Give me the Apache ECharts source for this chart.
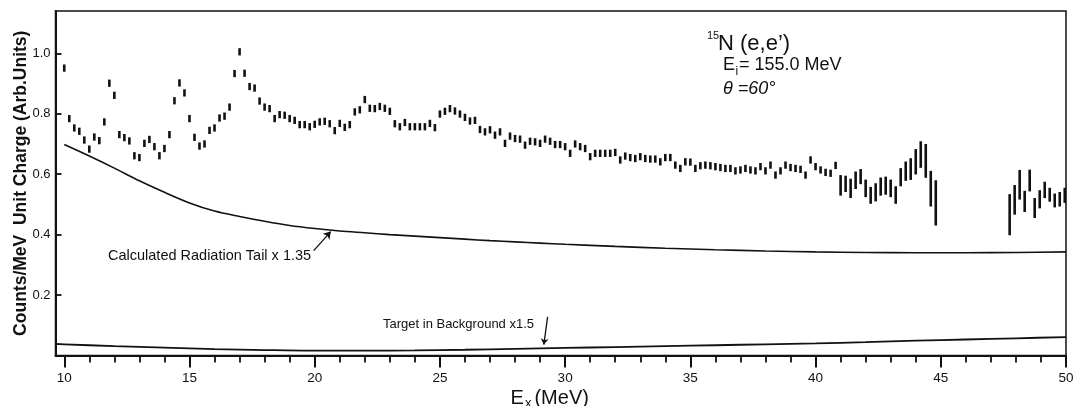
<!DOCTYPE html>
<html>
<head>
<meta charset="utf-8">
<title>15N(e,e') spectrum</title>
<script src="https://cdn.jsdelivr.net/npm/echarts@6/dist/echarts.min.js"></script>
<style>
  html, body { margin: 0; padding: 0; background: #fff; }
  #main { width: 1076px; height: 406px; }
</style>
</head>
<body>
<div id="main"></div>
<script>
// channel energies (MeV) and counts per MeV per unit charge
var energiesLow = [
  10.0, 10.2, 10.4, 10.6, 10.8, 11.0, 11.2, 11.4, 11.6, 11.8,
  12.0, 12.2, 12.4, 12.6, 12.8, 13.0, 13.2, 13.4, 13.6, 13.8,
  14.0, 14.2, 14.4, 14.6, 14.8, 15.0, 15.2, 15.4, 15.6, 15.8,
  16.0, 16.2, 16.4, 16.6, 16.8, 17.0, 17.2, 17.4, 17.6, 17.8,
  18.0, 18.2, 18.4, 18.6, 18.8, 19.0, 19.2, 19.4, 19.6, 19.8,
  20.0, 20.2, 20.4, 20.6, 20.8, 21.0, 21.2, 21.4, 21.6, 21.8,
  22.0, 22.2, 22.4, 22.6, 22.8, 23.0, 23.2, 23.4, 23.6, 23.8,
  24.0, 24.2, 24.4, 24.6, 24.8, 25.0, 25.2, 25.4, 25.6, 25.8,
  26.0, 26.2, 26.4, 26.6, 26.8, 27.0, 27.2, 27.4, 27.6, 27.8,
  28.0, 28.2, 28.4, 28.6, 28.8, 29.0, 29.2, 29.4, 29.6, 29.8,
  30.0, 30.2, 30.4, 30.6, 30.8, 31.0, 31.2, 31.4, 31.6, 31.8,
  32.0, 32.2, 32.4, 32.6, 32.8, 33.0, 33.2, 33.4, 33.6, 33.8,
  34.0, 34.2, 34.4, 34.6, 34.8, 35.0, 35.2, 35.4, 35.6, 35.8,
  36.0, 36.2, 36.4, 36.6, 36.8, 37.0, 37.2, 37.4, 37.6, 37.8,
  38.0, 38.2, 38.4, 38.6, 38.8, 39.0, 39.2, 39.4, 39.6, 39.8,
  40.0, 40.2, 40.4, 40.6, 40.8
];
var countsLow = [
  0.951, 0.784, 0.753, 0.742, 0.713, 0.683, 0.723, 0.711, 0.773, 0.901,
  0.861, 0.731, 0.721, 0.710, 0.661, 0.655, 0.702, 0.715, 0.691, 0.661,
  0.685, 0.731, 0.843, 0.902, 0.869, 0.784, 0.722, 0.693, 0.700, 0.745,
  0.753, 0.786, 0.792, 0.822, 0.933, 1.005, 0.934, 0.890, 0.885, 0.842,
  0.822, 0.817, 0.784, 0.797, 0.795, 0.784, 0.778, 0.764, 0.764, 0.757,
  0.765, 0.773, 0.775, 0.767, 0.744, 0.768, 0.755, 0.764, 0.806, 0.813,
  0.847, 0.818, 0.817, 0.824, 0.818, 0.808, 0.767, 0.757, 0.771, 0.757,
  0.757, 0.757, 0.757, 0.768, 0.754, 0.799, 0.808, 0.817, 0.809, 0.799,
  0.788, 0.776, 0.778, 0.748, 0.740, 0.747, 0.729, 0.740, 0.702, 0.726,
  0.718, 0.716, 0.696, 0.709, 0.707, 0.702, 0.716, 0.709, 0.698, 0.698,
  0.691, 0.669, 0.700, 0.691, 0.685, 0.658, 0.669, 0.669, 0.669, 0.669,
  0.672, 0.647, 0.660, 0.655, 0.652, 0.658, 0.652, 0.650, 0.650, 0.641,
  0.655, 0.655, 0.630, 0.619, 0.641, 0.640, 0.619, 0.628, 0.630, 0.628,
  0.625, 0.622, 0.619, 0.619, 0.611, 0.614, 0.619, 0.614, 0.611, 0.625,
  0.611, 0.630, 0.597, 0.611, 0.630, 0.622, 0.619, 0.616, 0.597, 0.647,
  0.625, 0.614, 0.606, 0.603, 0.629
];
var errLow = 0.012;

var energiesHigh = [
  41.0, 41.2, 41.4, 41.6, 41.8, 42.0, 42.2, 42.4, 42.6, 42.8,
  43.0, 43.2, 43.4, 43.6, 43.8, 44.0, 44.2, 44.4, 44.6, 44.8
];
var countsHigh = [
  0.563, 0.568, 0.553, 0.580, 0.592, 0.553, 0.530, 0.540, 0.559, 0.562,
  0.553, 0.531, 0.590, 0.610, 0.617, 0.641, 0.665, 0.644, 0.552, 0.505
];
var errHigh = [
  0.034, 0.027, 0.032, 0.029, 0.025, 0.029, 0.028, 0.030, 0.030, 0.030,
  0.029, 0.029, 0.030, 0.032, 0.036, 0.042, 0.044, 0.056, 0.059, 0.075
];

var energiesEnd = [47.75, 47.95, 48.15, 48.35, 48.55, 48.75, 48.95, 49.15, 49.35, 49.55, 49.75, 49.95];
var countsEnd = [0.466, 0.515, 0.565, 0.510, 0.579, 0.488, 0.517, 0.548, 0.532, 0.513, 0.517, 0.530];
var errEnd = [0.068, 0.049, 0.049, 0.035, 0.036, 0.033, 0.030, 0.027, 0.023, 0.023, 0.024, 0.025];

// calculated radiation tail (x 1.35)
var tailEnergies = [10, 11, 12, 13, 14, 15, 16, 17, 18, 19, 20, 21, 22, 23, 24, 25, 26, 27, 28, 29, 30, 32, 34, 36, 38, 40, 42, 44, 46, 48, 50];
var tailValues = [0.698, 0.660, 0.620, 0.578, 0.540, 0.505, 0.478, 0.460, 0.444, 0.430, 0.420, 0.412, 0.406, 0.400, 0.395,
  0.390, 0.385, 0.380, 0.376, 0.372, 0.368, 0.361, 0.355, 0.350, 0.346, 0.343, 0.341, 0.340, 0.340, 0.341, 0.343];

// target in background (x 1.5)
var bgEnergies = [9.65, 10, 12, 14, 16, 18, 20, 22, 24, 26, 28, 30, 32, 34, 36, 38, 40, 42, 44, 46, 48, 50];
var bgValues = [0.038, 0.037, 0.031, 0.026, 0.021, 0.018, 0.016, 0.016, 0.017, 0.019, 0.022, 0.025, 0.028, 0.031,
  0.034, 0.037, 0.040, 0.044, 0.049, 0.053, 0.057, 0.061];

var xMajorTicks = [10, 15, 20, 25, 30, 35, 40, 45, 50];
var xMinorTicks = [10, 11, 12, 13, 14, 15, 16, 17, 18, 19, 20, 21, 22, 23, 24, 25, 26, 27, 28, 29, 30,
  31, 32, 33, 34, 35, 36, 37, 38, 39, 40, 41, 42, 43, 44, 45, 46, 47, 48, 49, 50];
var yTicks = [0.2, 0.4, 0.6, 0.8, 1.0];

var ink = '#111';
var font = 'Liberation Sans';

function zip(xs, ys) {
  return xs.map(function (x, i) { return [x, ys[i]]; });
}

var points = [];
energiesLow.forEach(function (e, i) { points.push([e, countsLow[i], errLow]); });
energiesHigh.forEach(function (e, i) { points.push([e, countsHigh[i], errHigh[i]]); });
energiesEnd.forEach(function (e, i) { points.push([e, countsEnd[i], errEnd[i]]); });

function renderErrorBar(params, api) {
  var x = api.value(0);
  var y = api.value(1);
  var e = api.value(2);
  var hi = api.coord([x, y + e]);
  var lo = api.coord([x, y - e]);
  return {
    type: 'rect',
    shape: { x: hi[0] - 1.3, y: hi[1], width: 2.6, height: lo[1] - hi[1] },
    style: { fill: ink }
  };
}

var chart = echarts.init(document.getElementById('main'));

chart.setOption({
  animation: false,
  backgroundColor: '#fff',
  grid: {
    left: 55.5, right: 10, top: 11, bottom: 50.5,
    containLabel: false, outerBoundsMode: 'none',
    show: true, borderColor: ink, borderWidth: 1.5, backgroundColor: 'transparent'
  },
  xAxis: [
    {
      type: 'value', min: 9.65, max: 50, position: 'bottom',
      name: '{e|E}{s|x}{e|(MeV)}',
      nameLocation: 'middle', nameGap: 31, nameMoveOverlap: false,
      nameTextStyle: {
        padding: [0, 22, 0, 0],
        rich: {
          e: { fontFamily: font, fontSize: 20, color: ink },
          s: { fontFamily: font, fontSize: 13, color: ink, padding: [10, 3, 0, 1] }
        }
      },
      axisLine: { show: true, lineStyle: { color: ink, width: 2 } },
      axisTick: { show: true, length: 12, customValues: xMajorTicks, lineStyle: { color: ink, width: 2 } },
      axisLabel: {
        customValues: xMajorTicks, margin: 16, color: ink, fontFamily: font, fontSize: 13.5,
        formatter: function (v) { return String(v); }
      },
      splitLine: { show: false }
    },
    {
      type: 'value', min: 9.65, max: 50, position: 'bottom', gridIndex: 0,
      axisLine: { show: false },
      axisTick: { show: true, length: 7, customValues: xMinorTicks, lineStyle: { color: ink, width: 1.8 } },
      axisLabel: { show: false },
      splitLine: { show: false }
    }
  ],
  yAxis: {
    type: 'value', min: 0, max: 1.14,
    name: 'Counts/MeV  Unit Charge (Arb.Units)',
    nameLocation: 'middle', nameGap: 25, nameMoveOverlap: false,
    nameTextStyle: { fontFamily: font, fontSize: 17.5, fontWeight: 'bold', color: ink },
    axisLine: { show: true, lineStyle: { color: ink, width: 2 } },
    axisTick: { show: true, inside: true, length: 6, customValues: yTicks, lineStyle: { color: ink, width: 1.8 } },
    axisLabel: {
      customValues: yTicks, margin: 5, color: ink, fontFamily: font, fontSize: 13,
      formatter: function (v) { return v.toFixed(1); }
    },
    splitLine: { show: false }
  },
  series: [
    {
      name: 'data', type: 'custom', xAxisIndex: 0, renderItem: renderErrorBar,
      encode: { x: 0, y: 1 }, data: points, z: 5
    },
    {
      name: 'tail', type: 'line', xAxisIndex: 0, data: zip(tailEnergies, tailValues),
      smooth: 0.3, showSymbol: false, symbol: 'none',
      lineStyle: { color: ink, width: 1.6 },
      markLine: {
        silent: true, symbol: ['none', 'arrow'], symbolSize: 7,
        label: { show: false },
        lineStyle: { color: ink, width: 1.3, type: 'solid', curveness: -0.25 },
        data: [[{ coord: [19.96, 0.347] }, { coord: [20.64, 0.410] }]]
      }
    },
    {
      name: 'background', type: 'line', xAxisIndex: 0, data: zip(bgEnergies, bgValues),
      smooth: 0.3, showSymbol: false, symbol: 'none',
      lineStyle: { color: ink, width: 1.8 },
      markLine: {
        silent: true, symbol: ['none', 'arrow'], symbolSize: 6,
        label: { show: false },
        lineStyle: { color: ink, width: 1.3, type: 'solid', curveness: 0.2 },
        data: [[{ coord: [29.3, 0.128] }, { coord: [29.15, 0.036] }]]
      }
    }
  ],
  graphic: [
    { type: 'text', left: 108, top: 248, style: { text: 'Calculated Radiation Tail x 1.35', font: '14.5px "Liberation Sans"', fill: ink } },
    { type: 'text', left: 383, top: 318, style: { text: 'Target in Background x1.5', font: '13px "Liberation Sans"', fill: ink } },
    { type: 'text', left: 707, top: 30, style: { text: '15', font: '11px "Liberation Sans"', fill: ink } },
    { type: 'text', left: 718, top: 33, style: { text: 'N (e,e\u2019)', font: '22px "Liberation Sans"', fill: ink } },
    { type: 'text', left: 723, top: 56, style: { text: 'E', font: '18px "Liberation Sans"', fill: ink } },
    { type: 'text', left: 735.5, top: 66, style: { text: 'i', font: '12px "Liberation Sans"', fill: ink } },
    { type: 'text', left: 739, top: 56, style: { text: '= 155.0 MeV', font: '18px "Liberation Sans"', fill: ink } },
    { type: 'text', left: 723, top: 80, style: { text: '\u03b8 =60\u00b0', font: 'italic 18px "Liberation Sans"', fill: ink } }
  ]
});
</script>
</body>
</html>
